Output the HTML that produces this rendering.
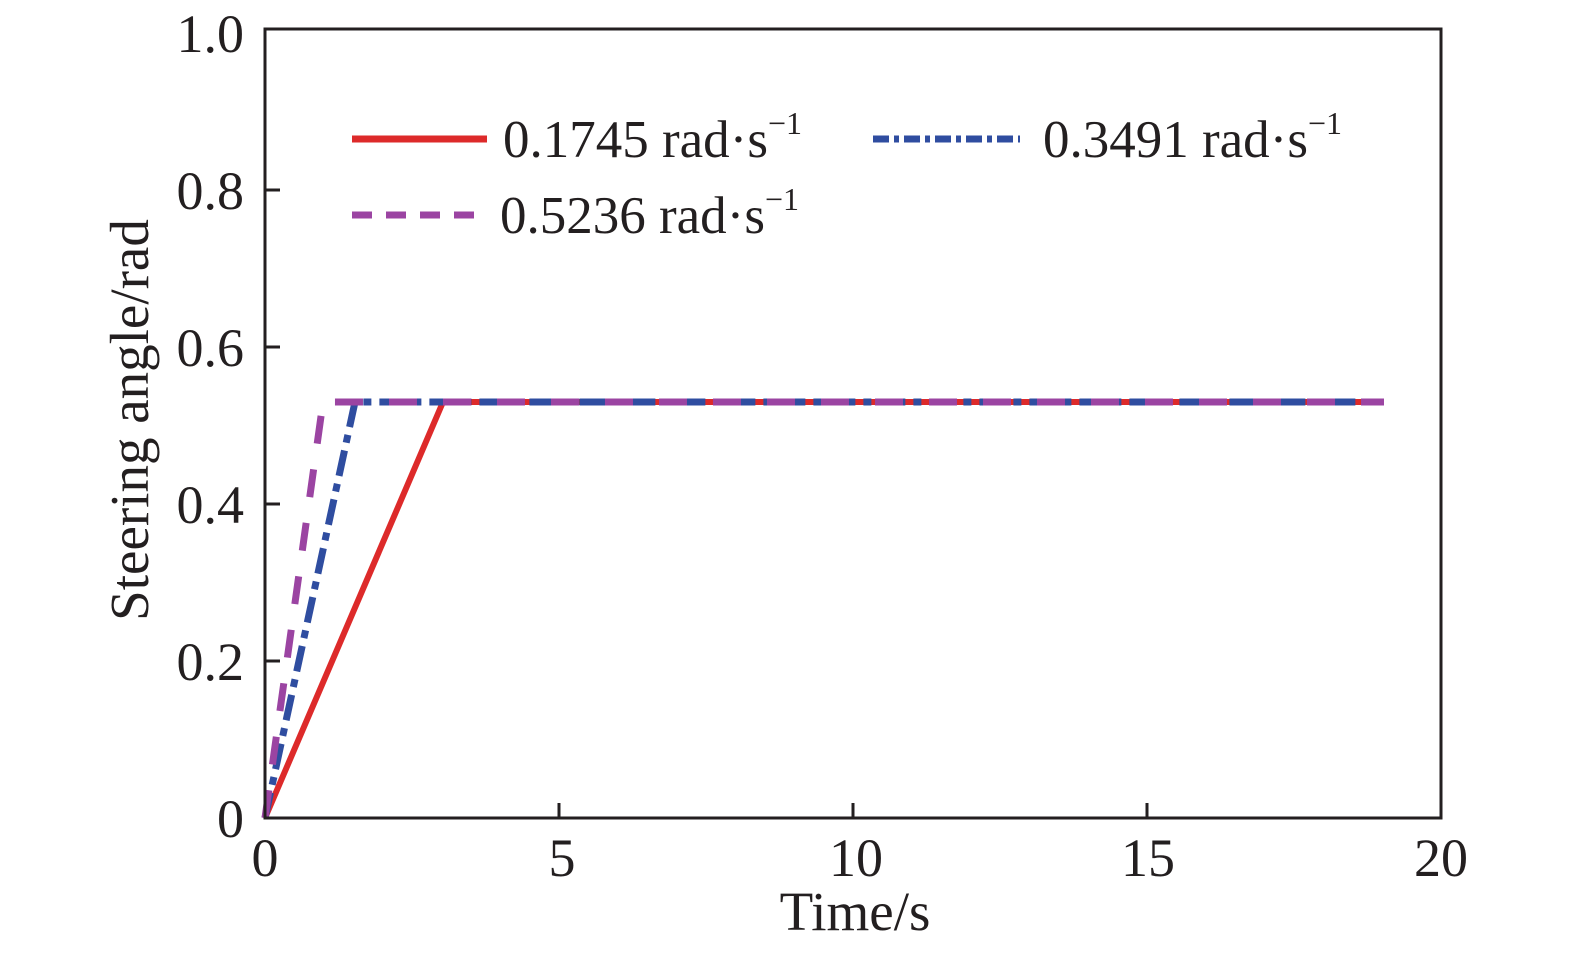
<!DOCTYPE html>
<html><head><style>body{margin:0;background:#fff}svg{display:block}</style></head><body>
<svg width="1575" height="955" xmlns="http://www.w3.org/2000/svg" font-family="Liberation Serif, serif" fill="#231f20">
<rect width="1575" height="955" fill="#fff"/>
<!-- series -->
<polyline points="265,818 443,402 1384,402" fill="none" stroke="#dd2a2a" stroke-width="6"/>
<polyline points="265,818 355,402 1384,402" fill="none" stroke="#2f4da0" stroke-width="7" stroke-dasharray="26,8,8,8"/>
<polyline points="265,818 323,402 1384,402" fill="none" stroke="#9b44a2" stroke-width="7" stroke-dasharray="28,26"/>
<!-- axes -->
<rect x="265" y="29" width="1176" height="789" fill="none" stroke="#231f20" stroke-width="3"/>
<g stroke="#231f20" stroke-width="3">
<line x1="265" y1="661" x2="280" y2="661"/><line x1="265" y1="504" x2="280" y2="504"/>
<line x1="265" y1="347" x2="280" y2="347"/><line x1="265" y1="190" x2="280" y2="190"/>
<line x1="559" y1="818" x2="559" y2="803"/><line x1="853" y1="818" x2="853" y2="803"/><line x1="1147" y1="818" x2="1147" y2="803"/>
</g>
<g font-size="54" text-anchor="end">
<text x="244" y="837">0</text><text x="244" y="680">0.2</text><text x="244" y="523">0.4</text>
<text x="244" y="366">0.6</text><text x="244" y="209">0.8</text><text x="244" y="52">1.0</text>
</g>
<g font-size="54" text-anchor="middle">
<text x="265" y="876">0</text><text x="562" y="876">5</text><text x="856" y="876">10</text>
<text x="1148" y="876">15</text><text x="1441" y="876">20</text>
<text x="855" y="930" font-size="55">Time/s</text>
<text transform="translate(148,420) rotate(-90)" font-size="55">Steering angle/rad</text>
</g>
<!-- legend -->
<line x1="352" y1="139" x2="487" y2="139" stroke="#dd2a2a" stroke-width="7"/>
<line x1="352" y1="215" x2="487" y2="215" stroke="#9b44a2" stroke-width="7" stroke-dasharray="20,14"/>
<line x1="873" y1="139" x2="1020" y2="139" stroke="#2f4da0" stroke-width="7" stroke-dasharray="16,5,5,5"/>
<g font-size="53">
<text x="503" y="157">0.1745 rad·s<tspan font-size="32" dy="-23">−1</tspan></text>
<text x="1043" y="157">0.3491 rad·s<tspan font-size="32" dy="-23">−1</tspan></text>
<text x="500" y="233">0.5236 rad·s<tspan font-size="32" dy="-23">−1</tspan></text>
</g>
</svg>
</body></html>
